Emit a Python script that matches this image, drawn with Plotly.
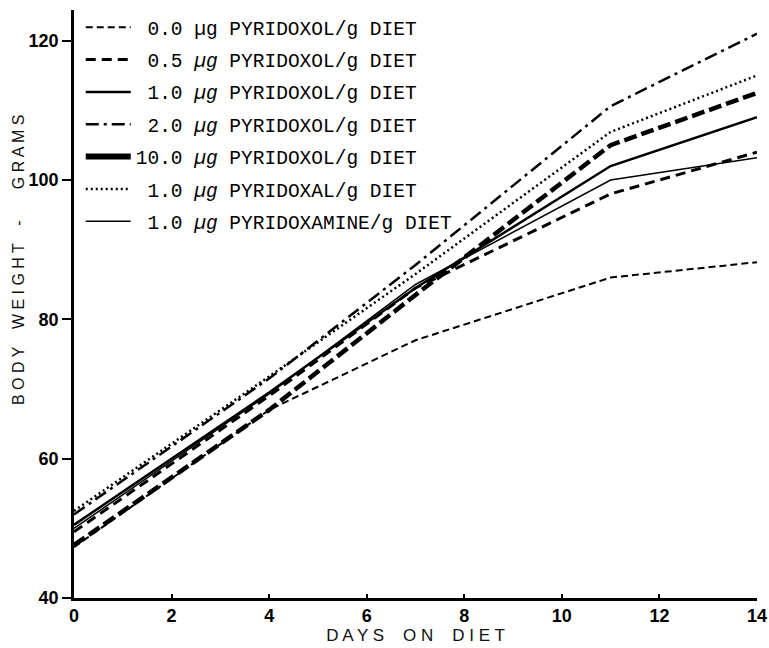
import plotly.graph_objects as go

# Days on diet at which the rats were weighed
days = [0, 4, 7, 11, 14]

# Mean body weight (grams) per diet group
wt_pyridoxol_0_0 = [47.3, 67.0, 77.0, 86.0, 88.2]
wt_pyridoxol_0_5 = [49.5, 69.0, 84.5, 98.0, 104.0]
wt_pyridoxol_1_0 = [50.5, 69.5, 84.5, 102.0, 109.0]
wt_pyridoxol_2_0 = [52.0, 71.5, 87.8, 110.6, 121.0]
wt_pyridoxol_10_0 = [47.6, 67.0, 83.5, 105.0, 112.5]
wt_pyridoxal_1_0 = [52.5, 71.8, 86.5, 106.9, 115.0]
wt_pyridoxamine_1_0 = [50.0, 69.3, 85.0, 100.0, 103.2]

# Legend labels
labels = [
    " 0.0 µg PYRIDOXOL/g DIET",
    " 0.5 <i>µg</i> PYRIDOXOL/g DIET",
    " 1.0 <i>µg</i> PYRIDOXOL/g DIET",
    " 2.0 <i>µg</i> PYRIDOXOL/g DIET",
    "10.0 <i>µg</i> PYRIDOXOL/g DIET",
    " 1.0 <i>µg</i> PYRIDOXAL/g DIET",
    " 1.0 <i>µg</i> PYRIDOXAMINE/g DIET",
]

y_ticks = [40, 60, 80, 100, 120]
x_ticks = [0, 2, 4, 6, 8, 10, 12, 14]

series = [
    wt_pyridoxol_0_0,
    wt_pyridoxol_0_5,
    wt_pyridoxol_1_0,
    wt_pyridoxol_2_0,
    wt_pyridoxol_10_0,
    wt_pyridoxal_1_0,
    wt_pyridoxamine_1_0,
]

# Line style for each group as drawn in the plot
line_styles = [
    dict(width=2, dash="7px,4px"),
    dict(width=3, dash="10px,6px"),
    dict(width=2.5, dash="solid"),
    dict(width=2.5, dash="13px,5px,3px,5px"),
    dict(width=4.5, dash="13px,5px"),
    dict(width=2.5, dash="2px,3px"),
    dict(width=1.5, dash="solid"),
]
# The 10 µg key is printed as a heavy solid bar
key_style_10 = dict(width=6, dash="solid")

fig = go.Figure()
for i, (lab, ys, st) in enumerate(zip(labels, series, line_styles)):
    group = f"g{i}"
    if i == 4:
        fig.add_trace(go.Scatter(
            x=days, y=ys, mode="lines", name=lab, legendgroup=group,
            showlegend=False, line=dict(color="black", **st)))
        fig.add_trace(go.Scatter(
            x=[None], y=[None], mode="lines", name=lab, legendgroup=group,
            line=dict(color="black", **key_style_10)))
    else:
        fig.add_trace(go.Scatter(
            x=days, y=ys, mode="lines", name=lab, legendgroup=group,
            line=dict(color="black", **st)))

tick_font = dict(family="Liberation Sans, Arial", size=18, color="black", weight=700)
title_font = dict(family="Liberation Sans, Arial", size=17, color="#111111")

fig.update_layout(
    width=769, height=648,
    margin=dict(l=74, r=12, t=10, b=50, autoexpand=False),
    paper_bgcolor="white", plot_bgcolor="white",
    showlegend=True,
    legend=dict(
        xref="container", yref="container",
        x=0.105, y=1 - 8 / 648, xanchor="left", yanchor="top",
        bgcolor="rgba(0,0,0,0)",
        font=dict(family="Liberation Mono, Courier New, monospace", size=19.5, color="black"),
        traceorder="grouped", tracegroupgap=4, itemwidth=45,
    ),
    xaxis=dict(
        range=[0, 14], tickvals=x_ticks, ticktext=[str(v) for v in x_ticks],
        showline=True, linecolor="black", linewidth=2.5, mirror=False,
        ticks="inside", ticklen=4, tickwidth=1.5, tickcolor="black",
        showgrid=False, zeroline=False, tickfont=tick_font,
        title=dict(text="D A Y S    O N    D I E T", font=title_font, standoff=4),
    ),
    yaxis=dict(
        range=[40, 124.4], tickvals=y_ticks, ticktext=[str(v) for v in y_ticks],
        showline=True, linecolor="black", linewidth=2.5, mirror=False,
        ticks="outside", ticklen=9, tickwidth=1.5, tickcolor="black",
        showgrid=False, zeroline=False, tickfont=tick_font,
        ticklabeloverflow="allow",
    ),
    annotations=[dict(
        text="B O D Y    W E I G H T    -       G R A M S",
        xref="paper", yref="paper", x=-0.082, y=(598 - 260) / 588,
        xanchor="center", yanchor="middle", textangle=-90,
        showarrow=False, font=dict(family="Liberation Sans, Arial", size=16, color="#111111"),
    )],
)

fig.write_html("out.html")
